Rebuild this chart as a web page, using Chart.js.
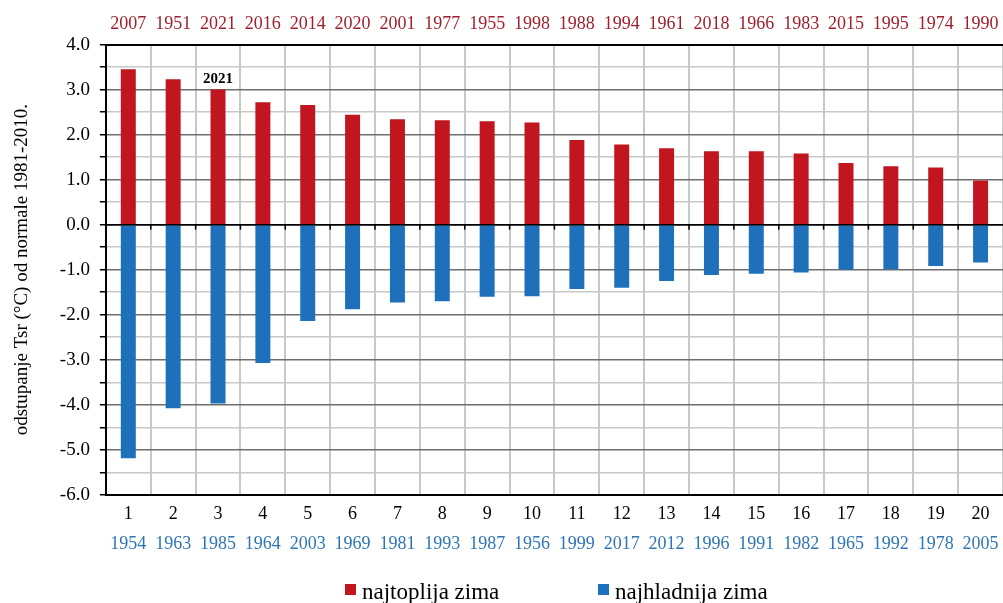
<!DOCTYPE html>
<html>
<head>
<meta charset="utf-8">
<script src="https://cdn.jsdelivr.net/npm/chart.js@4/dist/chart.umd.min.js"></script>
<style>
  html, body { margin: 0; padding: 0; background: #fff; }
  #wrap { position: relative; width: 1003px; height: 603px; overflow: hidden; }
  #legend { position: absolute; left: 0; top: 579px; width: 1003px; height: 24px; }
  .legend-item { position: absolute; top: 0; display: flex; align-items: flex-start; line-height: 25px;
    font-family: 'Liberation Serif', serif; font-size: 23px; color: #000; white-space: nowrap; }
  .legend-box { width: 11px; height: 11px; margin-top: 5px; margin-right: 6px; }
</style>
</head>
<body>
<div id="wrap">
  <canvas id="winterChart" width="1003" height="603"></canvas>
  <div id="legend"></div>
</div>
<script>
'use strict';

// rank of the winter (1 = most extreme)
const ranks = ['1', '2', '3', '4', '5', '6', '7', '8', '9', '10',
  '11', '12', '13', '14', '15', '16', '17', '18', '19', '20'];

// warmest winters and their anomaly (°C) from 1981-2010 normal
const warmYears = ['2007', '1951', '2021', '2016', '2014', '2020', '2001', '1977', '1955', '1998',
  '1988', '1994', '1961', '2018', '1966', '1983', '2015', '1995', '1974', '1990'];
const warmAnomaly = [3.45, 3.23, 3.0, 2.72, 2.66, 2.44, 2.34, 2.32, 2.30, 2.27,
  1.88, 1.78, 1.70, 1.63, 1.63, 1.58, 1.37, 1.30, 1.27, 0.98];

// coldest winters and their anomaly
const coldYears = ['1954', '1963', '1985', '1964', '2003', '1969', '1981', '1993', '1987', '1956',
  '1999', '2017', '2012', '1996', '1991', '1982', '1965', '1992', '1978', '2005'];
const coldAnomaly = [-5.19, -4.08, -3.97, -3.07, -2.14, -1.88, -1.73, -1.70, -1.60, -1.59,
  -1.43, -1.40, -1.25, -1.12, -1.09, -1.06, -1.00, -0.99, -0.92, -0.84];

const highlightYear = '2021';

const WARM_COLOR = '#c1161f';
const COLD_COLOR = '#1f70bb';
const FONT = "'Liberation Serif', 'Times New Roman', serif";
const HIDDEN = 'rgba(0,0,0,0)';

// zero line with small tick marks, plus label over the highlighted bar
const overlayPlugin = {
  id: 'overlay',
  afterDatasetsDraw(chart) {
    const { ctx, chartArea, scales } = chart;
    const x = scales.x;
    const y0 = scales.y.getPixelForValue(0);

    ctx.save();
    ctx.strokeStyle = '#000';
    ctx.lineWidth = 1.5;
    ctx.beginPath();
    ctx.moveTo(chartArea.left, y0);
    ctx.lineTo(chartArea.right, y0);
    ctx.stroke();

    for (let i = 1; i < ranks.length; i++) {
      const bx = (x.getPixelForValue(i - 1) + x.getPixelForValue(i)) / 2;
      ctx.beginPath();
      ctx.moveTo(bx, y0);
      ctx.lineTo(bx, y0 + 5);
      ctx.stroke();
    }

    const idx = warmYears.indexOf(highlightYear);
    if (idx >= 0) {
      ctx.fillStyle = '#000';
      ctx.font = `bold 15px ${FONT}`;
      ctx.textAlign = 'center';
      ctx.textBaseline = 'bottom';
      ctx.fillText(highlightYear, x.getPixelForValue(idx), scales.y.getPixelForValue(warmAnomaly[idx]) - 3);
    }
    ctx.restore();
  },
};

function gridColor(context) {
  const v = context.tick ? context.tick.value : null;
  if (v === null) return '#c8c8c8';
  if (v === 4 || v === -6 || v === 0) return '#000';
  if (Number.isInteger(v)) return '#6e6e6e';
  return '#c8c8c8';
}

const canvas = document.getElementById('winterChart');

const chart = new Chart(canvas, {
  type: 'bar',
  data: {
    labels: ranks,
    datasets: [
      {
        label: 'najtoplija zima',
        data: warmAnomaly,
        backgroundColor: WARM_COLOR,
        borderWidth: 0,
        categoryPercentage: 1,
        barPercentage: 0.334,
      },
      {
        label: 'najhladnija zima',
        data: coldAnomaly,
        backgroundColor: COLD_COLOR,
        borderWidth: 0,
        categoryPercentage: 1,
        barPercentage: 0.334,
      },
    ],
  },
  options: {
    responsive: false,
    animation: false,
    layout: { padding: { top: 13, left: 0, right: 0, bottom: 48 } },
    plugins: {
      legend: { display: false },
      tooltip: { enabled: false },
    },
    scales: {
      x: {
        type: 'category',
        position: 'bottom',
        stacked: true,
        offset: true,
        grid: { color: '#c8c8c8', lineWidth: 2, offset: true, drawTicks: true, tickLength: 9, tickColor: HIDDEN },
        border: { color: '#000', width: 2 },
        ticks: { color: '#000', font: { family: FONT, size: 18 }, padding: 0, maxRotation: 0, autoSkip: false },
      },
      xColdYears: {
        type: 'category',
        position: 'bottom',
        labels: coldYears,
        offset: true,
        grid: { display: true, drawOnChartArea: false, drawTicks: true, tickLength: 8, tickColor: HIDDEN },
        border: { display: false },
        ticks: { color: '#2e75b6', font: { family: FONT, size: 18 }, padding: 0, maxRotation: 0, autoSkip: false },
      },
      xWarmYears: {
        type: 'category',
        position: 'top',
        labels: warmYears,
        offset: true,
        grid: { display: true, drawOnChartArea: false, drawTicks: true, tickLength: 10, tickColor: HIDDEN },
        border: { display: true, color: '#000', width: 2 },
        ticks: { color: '#a01f2c', font: { family: FONT, size: 18 }, padding: 0, maxRotation: 0, autoSkip: false },
      },
      y: {
        stacked: true,
        min: -6,
        max: 4,
        grid: { color: gridColor, lineWidth: 1.5, tickColor: '#000', tickLength: 6 },
        border: { color: '#000', width: 2 },
        ticks: {
          stepSize: 0.5,
          color: '#000',
          font: { family: FONT, size: 19 },
          padding: 10,
          autoSkip: false,
          callback: (value) => (Number.isInteger(value) ? value.toFixed(1) : ''),
        },
        title: {
          display: true,
          text: 'odstupanje Tsr (°C) od normale 1981-2010.',
          color: '#000',
          font: { family: FONT, size: 19 },
          padding: { top: 11, bottom: 16 },
        },
      },
    },
  },
  plugins: [overlayPlugin],
});

// legend built from the chart's own datasets
const legendEl = document.getElementById('legend');
const legendLeft = [345, 598];
chart.data.datasets.forEach((ds, i) => {
  const item = document.createElement('div');
  item.className = 'legend-item';
  item.style.left = legendLeft[i] + 'px';
  const box = document.createElement('span');
  box.className = 'legend-box';
  box.style.background = ds.backgroundColor;
  const text = document.createElement('span');
  text.textContent = ds.label;
  item.appendChild(box);
  item.appendChild(text);
  legendEl.appendChild(item);
});
</script>
</body>
</html>
